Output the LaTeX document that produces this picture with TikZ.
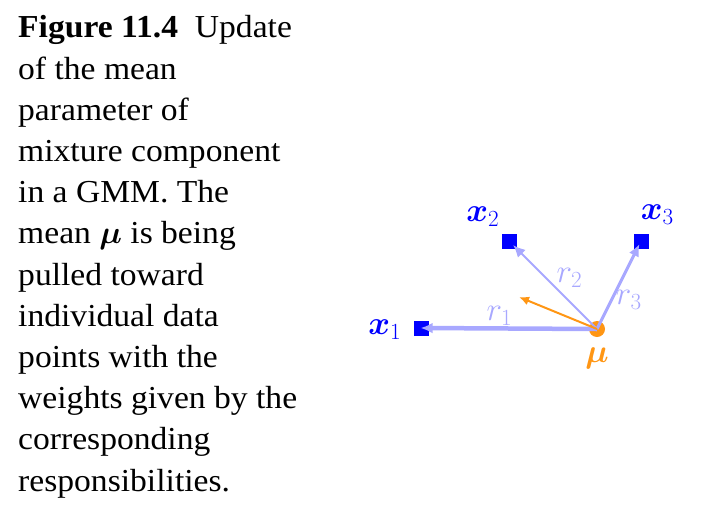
\RequirePackage{fix-cm}
\documentclass[tikz,border=0pt]{standalone}
\usepackage{amsmath,bm}
\usepackage{fontspec}
\setmainfont{Liberation Serif}[FakeStretch=1.05]
\usetikzlibrary{arrows.meta, positioning}

\definecolor{ptblue}{RGB}{0,0,255}
\definecolor{rblue}{RGB}{168,168,255}
\definecolor{muorange}{RGB}{255,150,20}

\begin{document}
\begin{tikzpicture}[
        x=1pt, y=-1pt,
        point/.style={rectangle, fill=ptblue, minimum size=15pt, inner sep=0pt},
        mean/.style={circle, fill=muorange, minimum size=16pt, inner sep=0pt},
        lab/.style={font=\fontsize{33}{36}\selectfont, inner sep=1pt},
        resp/.style={draw=rblue, -{Latex[length=12pt, width=11pt]}},
        rlab/.style={lab, text=rblue}
    ]
        \useasboundingbox (0,0) rectangle (718,517);

        % caption
        \node[anchor=base west, align=left, inner sep=0pt,
              font=\fontsize{32}{41.2}\selectfont] (caption) at (18,491)
            {\textbf{Figure 11.4}\ \ Update\\
             of the mean\\
             parameter of\\
             mixture component\\
             in a GMM. The\\
             mean $\bm{\mu}$ is being\\
             pulled toward\\
             individual data\\
             points with the\\
             weights given by the\\
             corresponding\\
             responsibilities.};

        % data points and mean
        \node[mean] (mu) at (597,329) {};
        \node[point] (x1) at (421,328) {};
        \node[point] (x2) at (509,241) {};
        \node[point] (x3) at (641,241) {};
        \coordinate (pull) at (519,297);

        \node[lab, text=ptblue, left=11pt of x1, yshift=-2pt] (x1lab) {$\bm{x}_1$};
        \node[lab, text=ptblue, above left=6pt and 1pt of x2] (x2lab) {$\bm{x}_2$};
        \node[lab, text=ptblue, above right=8pt and -9pt of x3] (x3lab) {$\bm{x}_3$};
        \node[lab, text=muorange, below=9pt of mu] (mulab) {$\bm{\mu}$};

        % responsibilities
        \draw[resp, line width=4.5pt, shorten >=-8pt] (mu.center) -- node[rlab, above, pos=0.58] (r1) {$r_1$} (x1);
        \draw[resp, line width=2pt, shorten >=-5pt] (mu.center) -- node[rlab, above right=-2pt, pos=0.51] (r2) {$r_2$} (x2);
        \draw[resp, line width=3pt, shorten >=-5pt] (mu.center) -- node[rlab, right=2pt, pos=0.36] (r3) {$r_3$} (x3);

        % update of the mean
        \draw[draw=muorange, line width=2pt, -{Latex[length=10pt, width=9pt]}] (mu.center) -- (pull);

    \end{tikzpicture}
\end{document}
